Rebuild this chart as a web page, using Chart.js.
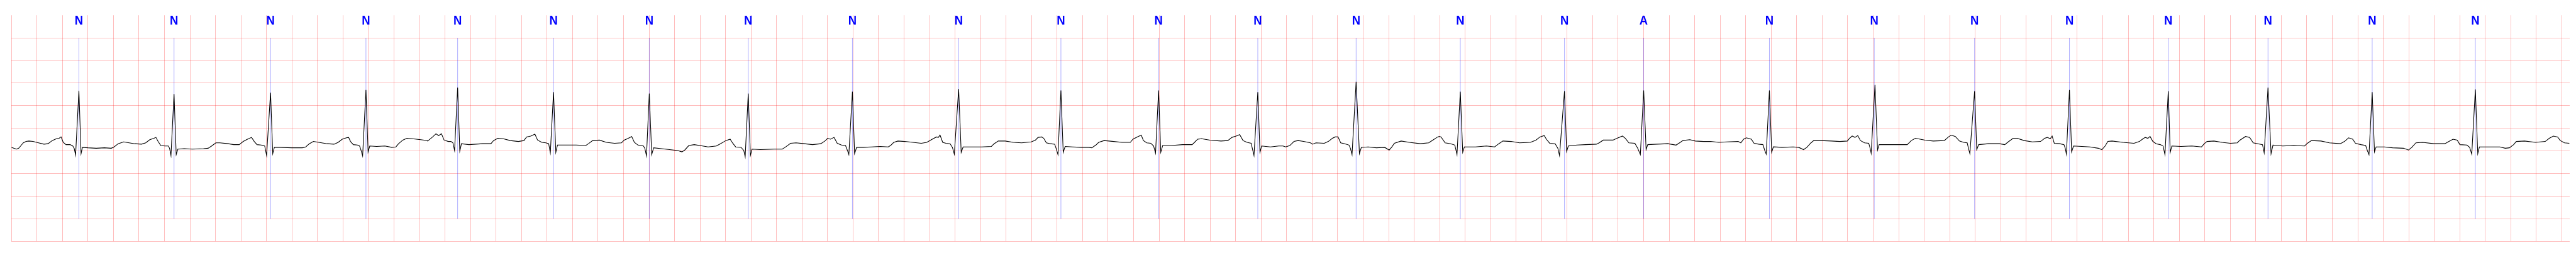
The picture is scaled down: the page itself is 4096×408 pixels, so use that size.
<!DOCTYPE html>
<html><head><meta charset="utf-8">
<script src="https://cdn.jsdelivr.net/npm/chart.js@4.4.1/dist/chart.umd.min.js"></script>
<style>html,body{margin:0;padding:0;background:#fff;overflow:hidden}</style>
</head><body>
<canvas id="c" width="4096" height="408"></canvas>
<script>
// ECG trace: [time s, amplitude mV]
const strip1 = [[0,-0.42],[0.018,-0.44],[0.040,-0.46],[0.057,-0.44],[0.072,-0.39],[0.093,-0.32],[0.115,-0.29],[0.137,-0.28],[0.169,-0.29],[0.212,-0.32],[0.255,-0.35],[0.287,-0.34],[0.320,-0.27],[0.352,-0.23],[0.374,-0.22],[0.389,-0.19],[0.406,-0.31],[0.428,-0.36],[0.460,-0.36],[0.481,-0.39],[0.492,-0.44],[0.503,-0.59],[0.529,0.83],[0.546,-0.56],[0.557,-0.42],[0.600,-0.43],[0.665,-0.44],[0.729,-0.43],[0.783,-0.44],[0.805,-0.41],[0.837,-0.34],[0.880,-0.30],[0.923,-0.32],[0.967,-0.34],[1.020,-0.35],[1.053,-0.32],[1.085,-0.25],[1.118,-0.22],[1.133,-0.20],[1.150,-0.29],[1.171,-0.38],[1.204,-0.39],[1.230,-0.39],[1.240,-0.44],[1.251,-0.60],[1.275,0.76],[1.292,-0.58],[1.305,-0.46],[1.355,-0.45],[1.419,-0.46],[1.506,-0.45],[1.542,-0.44],[1.570,-0.39],[1.603,-0.32],[1.635,-0.32],[1.700,-0.34],[1.743,-0.36],[1.786,-0.36],[1.818,-0.29],[1.851,-0.24],[1.883,-0.20],[1.904,-0.29],[1.926,-0.36],[1.958,-0.37],[1.986,-0.39],[2.001,-0.60],[2.032,0.79],[2.049,-0.56],[2.062,-0.42],[2.109,-0.42],[2.196,-0.43],[2.282,-0.43],[2.308,-0.41],[2.336,-0.34],[2.368,-0.29],[2.411,-0.31],[2.476,-0.34],[2.530,-0.35],[2.562,-0.31],[2.594,-0.24],[2.627,-0.21],[2.644,-0.20],[2.659,-0.29],[2.681,-0.36],[2.713,-0.37],[2.730,-0.39],[2.741,-0.48],[2.754,-0.61],[2.780,0.85],[2.797,-0.52],[2.810,-0.39],[2.864,-0.40],[2.928,-0.39],[2.982,-0.42],[3.015,-0.41],[3.036,-0.34],[3.069,-0.26],[3.101,-0.22],[3.144,-0.23],[3.209,-0.25],[3.263,-0.27]];
const strip2 = [[3.264,-0.28],[3.303,-0.19],[3.329,-0.12],[3.350,-0.16],[3.372,-0.12],[3.393,-0.26],[3.426,-0.29],[3.447,-0.29],[3.462,-0.32],[3.475,-0.49],[3.499,0.90],[3.516,-0.50],[3.529,-0.34],[3.587,-0.36],[3.695,-0.34],[3.760,-0.34],[3.781,-0.27],[3.814,-0.22],[3.857,-0.23],[3.911,-0.27],[3.975,-0.29],[4.019,-0.27],[4.040,-0.19],[4.072,-0.17],[4.105,-0.13],[4.126,-0.26],[4.159,-0.31],[4.191,-0.32],[4.213,-0.34],[4.226,-0.54],[4.251,0.80],[4.269,-0.53],[4.282,-0.37],[4.342,-0.37],[4.428,-0.37],[4.504,-0.38],[4.525,-0.34],[4.558,-0.27],[4.611,-0.26],[4.665,-0.31],[4.730,-0.33],[4.784,-0.32],[4.805,-0.26],[4.838,-0.22],[4.864,-0.18],[4.885,-0.31],[4.913,-0.37],[4.956,-0.39],[4.967,-0.44],[4.980,-0.61],[5.002,0.77],[5.021,-0.58],[5.036,-0.43],[5.097,-0.45],[5.161,-0.47],[5.226,-0.49],[5.258,-0.52],[5.280,-0.48],[5.312,-0.38],[5.355,-0.36],[5.420,-0.39],[5.463,-0.41],[5.528,-0.39],[5.560,-0.34],[5.603,-0.27],[5.636,-0.24],[5.657,-0.33],[5.679,-0.41],[5.722,-0.42],[5.743,-0.49],[5.754,-0.63],[5.778,0.77],[5.795,-0.60],[5.808,-0.46],[5.873,-0.47],[5.981,-0.46],[6.045,-0.46],[6.067,-0.42],[6.110,-0.33],[6.153,-0.32],[6.218,-0.34],[6.282,-0.36],[6.347,-0.34],[6.379,-0.28],[6.401,-0.22],[6.422,-0.24],[6.451,-0.20],[6.476,-0.33],[6.509,-0.37],[6.541,-0.38],[6.556,-0.49],[6.567,-0.58],[6.595,0.81],[6.612,-0.56]];
const strip3 = [[6.628,-0.42],[6.682,-0.42],[6.747,-0.41],[6.812,-0.40],[6.876,-0.41],[6.894,-0.38],[6.919,-0.31],[6.952,-0.28],[7.006,-0.29],[7.070,-0.31],[7.135,-0.33],[7.178,-0.31],[7.221,-0.24],[7.254,-0.19],[7.269,-0.20],[7.282,-0.15],[7.303,-0.31],[7.329,-0.33],[7.361,-0.34],[7.379,-0.42],[7.394,-0.57],[7.428,0.87],[7.448,-0.53],[7.463,-0.41],[7.523,-0.41],[7.609,-0.41],[7.685,-0.40],[7.706,-0.34],[7.739,-0.28],[7.793,-0.28],[7.857,-0.31],[7.922,-0.32],[7.997,-0.30],[8.030,-0.26],[8.051,-0.20],[8.079,-0.19],[8.095,-0.22],[8.116,-0.32],[8.148,-0.34],[8.181,-0.35],[8.192,-0.44],[8.207,-0.58],[8.230,0.84],[8.248,-0.53],[8.263,-0.40],[8.321,-0.41],[8.386,-0.42],[8.450,-0.42],[8.472,-0.43],[8.504,-0.37],[8.526,-0.31],[8.569,-0.27],[8.644,-0.29],[8.709,-0.31],[8.774,-0.31],[8.795,-0.24],[8.828,-0.19],[8.860,-0.15],[8.877,-0.27],[8.903,-0.32],[8.935,-0.33],[8.957,-0.39],[8.972,-0.55],[8.996,0.84],[9.013,-0.53],[9.028,-0.38],[9.097,-0.38],[9.183,-0.36],[9.259,-0.36],[9.274,-0.32],[9.302,-0.24],[9.334,-0.23],[9.399,-0.26],[9.485,-0.28],[9.539,-0.27],[9.571,-0.20],[9.604,-0.17],[9.632,-0.14],[9.658,-0.27],[9.690,-0.31],[9.722,-0.33],[9.729,-0.42],[9.744,-0.60],[9.774,0.80],[9.791,-0.53],[9.804,-0.39],[9.873,-0.41],[9.938,-0.39]];
const strip4 = [[9.971,-0.39],[9.993,-0.41],[10.025,-0.38],[10.058,-0.29],[10.090,-0.27],[10.133,-0.29],[10.187,-0.32],[10.204,-0.35],[10.230,-0.32],[10.295,-0.33],[10.327,-0.29],[10.359,-0.22],[10.381,-0.19],[10.403,-0.19],[10.424,-0.32],[10.456,-0.34],[10.489,-0.37],[10.500,-0.44],[10.513,-0.58],[10.545,1.03],[10.571,-0.56],[10.586,-0.42],[10.640,-0.41],[10.704,-0.43],[10.769,-0.42],[10.804,-0.48],[10.823,-0.42],[10.845,-0.33],[10.898,-0.28],[10.963,-0.31],[11.049,-0.34],[11.114,-0.32],[11.146,-0.26],[11.179,-0.20],[11.196,-0.18],[11.211,-0.19],[11.243,-0.32],[11.287,-0.34],[11.319,-0.37],[11.336,-0.58],[11.362,0.81],[11.381,-0.53],[11.394,-0.41],[11.481,-0.41],[11.567,-0.39],[11.631,-0.41],[11.664,-0.34],[11.696,-0.28],[11.761,-0.29],[11.826,-0.32],[11.912,-0.31],[11.955,-0.26],[11.987,-0.19],[12.020,-0.16],[12.037,-0.24],[12.063,-0.33],[12.106,-0.34],[12.127,-0.44],[12.140,-0.60],[12.179,0.82],[12.196,-0.51],[12.209,-0.39],[12.278,-0.37],[12.343,-0.36],[12.429,-0.35],[12.451,-0.32],[12.483,-0.26],[12.559,-0.26],[12.591,-0.22],[12.634,-0.17],[12.656,-0.22],[12.684,-0.32],[12.731,-0.33],[12.753,-0.44],[12.774,-0.58],[12.800,0.84],[12.819,-0.47],[12.832,-0.36],[12.903,-0.35],[12.990,-0.34],[13.054,-0.37],[13.076,-0.33],[13.108,-0.27],[13.162,-0.25],[13.205,-0.28],[13.270,-0.29]];
const strip5 = [[13.325,-0.29],[13.390,-0.31],[13.454,-0.30],[13.541,-0.29],[13.562,-0.32],[13.584,-0.24],[13.605,-0.21],[13.644,-0.24],[13.666,-0.33],[13.702,-0.35],[13.735,-0.36],[13.750,-0.49],[13.761,-0.57],[13.786,0.84],[13.804,-0.53],[13.817,-0.41],[13.886,-0.42],[13.972,-0.41],[14.015,-0.42],[14.054,-0.47],[14.080,-0.42],[14.112,-0.32],[14.134,-0.27],[14.187,-0.27],[14.274,-0.28],[14.338,-0.29],[14.397,-0.28],[14.414,-0.22],[14.435,-0.17],[14.457,-0.20],[14.479,-0.16],[14.500,-0.27],[14.532,-0.32],[14.565,-0.33],[14.576,-0.44],[14.584,-0.55],[14.614,0.96],[14.634,-0.48],[14.647,-0.36],[14.726,-0.36],[14.834,-0.36],[14.867,-0.36],[14.899,-0.27],[14.931,-0.22],[15.007,-0.26],[15.071,-0.28],[15.158,-0.27],[15.190,-0.19],[15.212,-0.15],[15.244,-0.18],[15.276,-0.28],[15.309,-0.31],[15.337,-0.32],[15.347,-0.44],[15.358,-0.56],[15.395,0.82],[15.412,-0.47],[15.427,-0.36],[15.503,-0.34],[15.589,-0.34],[15.632,-0.36],[15.654,-0.31],[15.697,-0.22],[15.729,-0.22],[15.783,-0.27],[15.848,-0.30],[15.912,-0.29],[15.945,-0.22],[15.966,-0.20],[15.988,-0.23],[16.003,-0.17],[16.020,-0.33],[16.063,-0.34],[16.096,-0.36],[16.106,-0.44],[16.115,-0.57],[16.139,0.85],[16.156,-0.52],[16.171,-0.39],[16.236,-0.40],[16.300,-0.41],[16.365,-0.44],[16.393,-0.47],[16.419,-0.39],[16.440,-0.29],[16.473,-0.28],[16.559,-0.31],[16.645,-0.33],[16.688,-0.29]];
const strip6 = [[16.711,-0.24],[16.733,-0.20],[16.754,-0.22],[16.771,-0.18],[16.793,-0.29],[16.819,-0.34],[16.851,-0.36],[16.873,-0.39],[16.888,-0.58],[16.914,0.82],[16.929,-0.53],[16.942,-0.39],[17.013,-0.40],[17.099,-0.39],[17.175,-0.41],[17.196,-0.34],[17.218,-0.29],[17.272,-0.28],[17.336,-0.31],[17.401,-0.33],[17.455,-0.32],[17.476,-0.26],[17.520,-0.18],[17.552,-0.20],[17.580,-0.32],[17.617,-0.34],[17.653,-0.36],[17.666,-0.54],[17.696,0.90],[17.720,-0.56],[17.735,-0.37],[17.811,-0.39],[17.897,-0.38],[17.983,-0.39],[18.005,-0.33],[18.037,-0.27],[18.112,-0.28],[18.177,-0.32],[18.263,-0.34],[18.296,-0.29],[18.328,-0.21],[18.360,-0.24],[18.382,-0.33],[18.425,-0.36],[18.462,-0.38],[18.475,-0.49],[18.488,-0.58],[18.513,0.80],[18.531,-0.52],[18.544,-0.41],[18.608,-0.41],[18.673,-0.43],[18.759,-0.44],[18.798,-0.48],[18.824,-0.42],[18.856,-0.32],[18.910,-0.31],[18.996,-0.34],[19.083,-0.34],[19.115,-0.29],[19.147,-0.24],[19.180,-0.26],[19.201,-0.36],[19.255,-0.37],[19.277,-0.42],[19.294,-0.57],[19.322,0.86],[19.341,-0.56],[19.354,-0.41],[19.428,-0.41],[19.514,-0.41],[19.557,-0.44],[19.589,-0.43],[19.622,-0.36],[19.643,-0.29],[19.708,-0.28],[19.794,-0.31],[19.870,-0.29],[19.902,-0.22],[19.934,-0.17],[19.967,-0.19],[19.988,-0.27],[20.021,-0.32],[20.059,-0.33]];

// Beat annotations
const beatTimes = [0.529,1.275,2.032,2.780,3.499,4.251,5.002,5.778,6.595,7.428,8.230,8.996,9.774,10.545,11.362,12.179,12.800,13.786,14.608,15.395,16.139,16.914,17.696,18.513,19.322];
const beatSymbols = ['N','N','N','N','N','N','N','N','N','N','N','N','N','N','N','N','A','N','N','N','N','N','N','N','N'];

// Axis ranges and grid steps
const xMin = 0, xMax = 20.062, xStep = 0.2;
const yMin = -2.5, yMax = 2.5, yStep = 0.5;
const markerLow = -2.0, markerHigh = 2.0;
const labelBaseline = 2.294;

const ecg = [].concat(strip1, strip2, strip3, strip4, strip5, strip6).map(p => ({x: p[0], y: p[1]}));
const markers = [];
beatTimes.forEach(t => { markers.push({x: t, y: markerLow}, {x: t, y: markerHigh}, {x: t, y: null}); });

const gridColor = 'rgba(255,0,0,0.26)';

const labelPlugin = {
  id: 'beatLabels',
  afterDatasetsDraw(chart) {
    const ctx = chart.ctx, xs = chart.scales.x, ys = chart.scales.y;
    const by = ys.getPixelForValue(labelBaseline);
    ctx.save();
    ctx.fillStyle = '#0000ff';
    ctx.font = 'bold 21px "Liberation Sans", Arial, sans-serif';
    ctx.textAlign = 'center';
    ctx.textBaseline = 'alphabetic';
    beatTimes.forEach((t, i) => {
      const px = xs.getPixelForValue(t);
      ctx.save();
      ctx.translate(px, by);
      ctx.scale(0.88, 1);
      ctx.fillText(beatSymbols[i], 0, 0);
      ctx.restore();
    });
    ctx.restore();
  }
};

new Chart(document.getElementById('c'), {
  type: 'line',
  data: {
    datasets: [
      {data: ecg, borderColor: '#000000', borderWidth: 1.1, pointRadius: 0, tension: 0, fill: false, spanGaps: false},
      {data: markers, borderColor: 'rgba(0,0,255,0.55)', borderWidth: 0.6, pointRadius: 0, tension: 0, fill: false, spanGaps: false}
    ]
  },
  options: {
    responsive: false,
    devicePixelRatio: 1,
    animation: false,
    events: [],
    layout: {padding: {left: 18.2, right: 10, top: 24.2, bottom: 24.7}},
    plugins: {legend: {display: false}, tooltip: {enabled: false}},
    scales: {
      x: {type: 'linear', min: xMin, max: xMax,
          ticks: {display: false, stepSize: xStep, includeBounds: false},
          grid: {color: gridColor, lineWidth: 1, drawTicks: false},
          border: {display: false}},
      y: {type: 'linear', min: yMin, max: yMax,
          ticks: {display: false, stepSize: yStep, includeBounds: false},
          grid: {color: c => (c.tick && c.tick.value > yMax - 0.01) ? 'rgba(0,0,0,0)' : gridColor, lineWidth: 1, drawTicks: false},
          border: {display: false}}
    }
  },
  plugins: [labelPlugin]
});
</script>
</body></html>
